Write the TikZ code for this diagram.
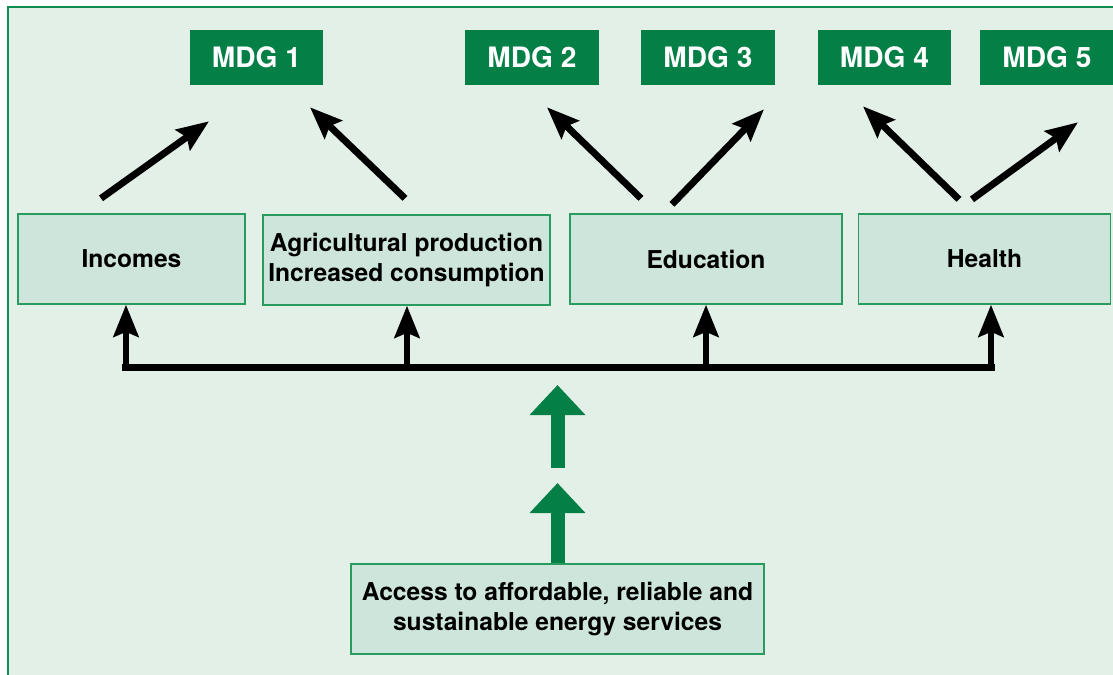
\documentclass[tikz,border=0pt]{standalone}
\usepackage{fontspec}
\setmainfont{TeX Gyre Heros}
\usetikzlibrary{arrows.meta}
\definecolor{mdggreen}{RGB}{4,127,69}
\definecolor{framegreen}{RGB}{16,140,80}
\definecolor{panel}{RGB}{227,240,232}
\definecolor{boxfill}{RGB}{205,229,218}
\definecolor{boxline}{RGB}{40,155,95}

\begin{document}
\begin{tikzpicture}[x=0.025cm,y=-0.025cm,
  goal/.style={fill=mdggreen, text=white, font=\bfseries\fontsize{20}{23}\selectfont,
    minimum width=3.325cm, minimum height=1.375cm, inner sep=0pt},
  factor/.style={draw=boxline, line width=0.9pt, fill=boxfill, align=center,
    font=\bfseries\fontsize{17.5}{21.5}\selectfont, minimum height=2.25cm, inner sep=0pt},
  link/.style={line width=4.9pt, -{Stealth[length=0.8cm,width=0.62cm,inset=0.12cm]}},
  bus/.style={line width=5.1pt, line cap=rect},
  feed/.style={mdggreen, line width=0.35cm, -{Triangle[length=0.75cm,width=1.35cm]}}]
\clip (0,0) rectangle (1113,675);
\fill[white] (0,0) rectangle (1113,675);
\draw[framegreen, line width=1.8pt, fill=panel] (8,7) rectangle (1140,700);

\node[goal] (mdg1) at (256.5,57.5) {MDG 1};
\node[goal] (mdg2) at (532,57.5) {MDG 2};
\node[goal] (mdg3) at (708,57.5) {MDG 3};
\node[goal] (mdg4) at (884.5,57.5) {MDG 4};
\node[goal] (mdg5) at (1047,57.5) {MDG 5};

\node[factor, minimum width=5.675cm] (incomes) at (131.5,259) {Incomes};
\node[factor, minimum width=7.175cm] (agri) at (406.5,260) {Agricultural production\\Increased consumption};
\node[factor, minimum width=6.8cm] (edu) at (706,259) {Education};
\node[factor, minimum width=6.3cm] (health) at (984.5,259) {Health};
\node[factor, minimum width=10.325cm] (access) at (557.5,609) {Access to affordable, reliable and\\sustainable energy services};

\draw[link] ([shift={(-30.5,-15)}]incomes.north) -- ([shift={(-47.5,36)}]mdg1.south);
\draw[link] ([shift={(-1.5,-16)}]agri.north) -- ([shift={(53.5,22)}]mdg1.south);
\draw[link] ([shift={(-65,-15)}]edu.north) -- ([shift={(15,22)}]mdg2.south);
\draw[link] ([shift={(-34,-9)}]edu.north) -- ([shift={(56,24)}]mdg3.south);
\draw[link] ([shift={(-25.5,-14)}]health.north) -- ([shift={(-21.5,21)}]mdg4.south);
\draw[link] ([shift={(-12.5,-14)}]health.north) -- ([shift={(31,37)}]mdg5.south);

\draw[bus] ([shift={(-5.5,63)}]incomes.south) -- ([shift={(6.5,63)}]health.south);
\draw[link] ([shift={(-5.5,63)}]incomes.south) -- ([shift={(-5.5,0)}]incomes.south);
\draw[link] ([shift={(0.5,63)}]agri.south) -- ([shift={(0.5,0)}]agri.south);
\draw[link] ([shift={(0,63)}]edu.south) -- (edu.south);
\draw[link] ([shift={(6.5,63)}]health.south) -- ([shift={(6.5,0)}]health.south);

\coordinate (gap-lo) at (557.5,483);
\coordinate (gap-hi) at (557.5,468);
\coordinate (bus-in) at (557.5,385);
\draw[feed] (access.north) -- (gap-lo);
\draw[feed] (gap-hi) -- (bus-in);
\end{tikzpicture}
\end{document}
